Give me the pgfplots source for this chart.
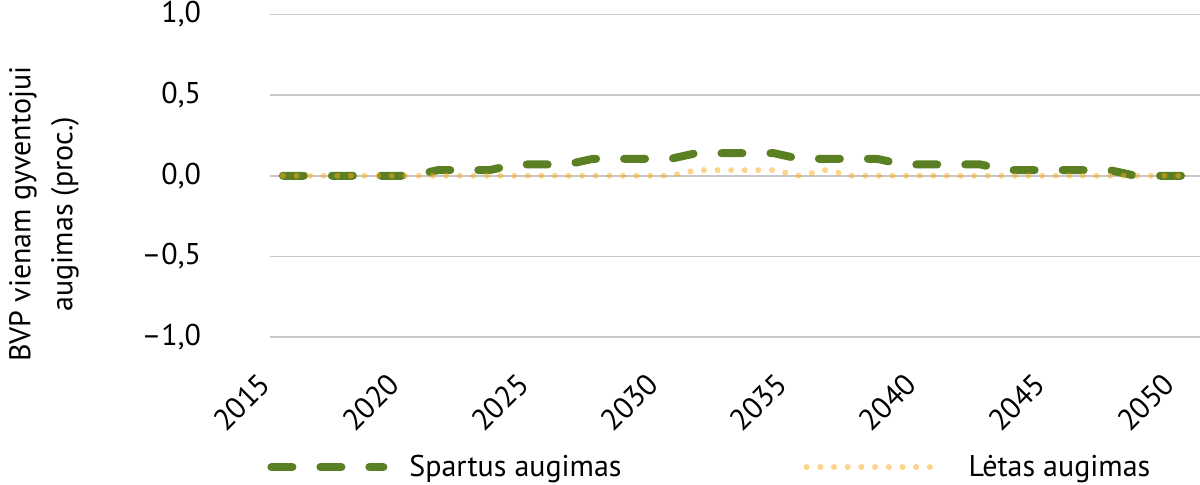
\documentclass[border=0pt]{standalone}
\usepackage{pgfplots}
\pgfplotsset{compat=1.18}
\usepackage{fontspec}
\setmainfont{PT Sans}
\definecolor{cgreen}{RGB}{91,127,35}
\definecolor{corange}{RGB}{250,170,25}
\pgfplotsset{
  greenleg/.style={legend image code/.code={\draw[##1] (2pt,0pt) -- (58pt,0pt);}},
  orangeleg/.style={legend image code/.code={\draw[##1, dash pattern=on 0pt off 6.85pt] (1.5pt,0pt) -- (70pt,0pt);}},
}
\pgfplotstableread{
year val
2015 0
2016 0
2017 0
2018 0
2019 0
2020 0
2021 0.035
2022 0.035
2023 0.035
2024 0.07
2025 0.07
2026 0.07
2027 0.105
2028 0.105
2029 0.105
2030 0.105
2031 0.14
2032 0.14
2033 0.14
2034 0.14
2035 0.105
2036 0.105
2037 0.105
2038 0.105
2039 0.07
2040 0.07
2041 0.07
2042 0.07
2043 0.035
2044 0.035
2045 0.035
2046 0.035
2047 0.035
2048 0
2049 0
2050 0
}\spartus
\pgfplotstableread{
year val
2015 0
2016 0
2017 0
2018 0
2019 0
2020 0
2021 0
2022 0
2023 0
2024 0
2025 0
2026 0
2027 0
2028 0
2029 0
2030 0
2031 0.035
2032 0.035
2033 0.035
2034 0.035
2035 0
2036 0.035
2037 0
2038 0
2039 0
2040 0
2041 0
2042 0
2043 0
2044 0
2045 0
2046 0
2047 0
2048 0
2049 0
2050 0
}\letas
\begin{document}
\begin{tikzpicture}
\path[use as bounding box] (-135pt,-73.5pt) rectangle (465pt,168.5pt);
\begin{axis}[
  at={(0,0)}, anchor=south west,
  scale only axis,
  width=465pt, height=161.25pt,
  xmin=2014.5, xmax=2050.5,
  ymin=-1, ymax=1,
  xtick={2015,2020,2025,2030,2035,2040,2045,2050},
  xticklabels={2015,2020,2025,2030,2035,2040,2045,2050},
  ytick={-1,-0.5,0,0.5,1},
  yticklabels={{–1,0},{–0,5},{0,0},{0,5},{1,0}},
  ymajorgrids,
  grid style={draw=black!22, line width=0.75pt},
  axis line style={draw=none},
  major tick length=0pt,
  tick label style={font=\fontsize{15}{17}\selectfont},
  yticklabel style={anchor=east, xshift=-31pt},
  xticklabel style={rotate=45, anchor=east, xshift=-17.7pt, yshift=-8.5pt},
  ylabel={BVP vienam gyventojui\\augimas (proc.)},
  ylabel style={at={(axis description cs:-0.243,0.381)}, anchor=center, align=center, font=\fontsize{15}{21}\selectfont},
  clip=false,
  legend columns=2,
  legend style={at={(0,0)}, anchor=west, xshift=-4.5pt, yshift=-65pt, draw=none, fill=none,
     font=\fontsize{15}{17}\selectfont,
     /tikz/every odd column/.append style={column sep=9pt},
     /tikz/every even column/.append style={column sep=89pt}},
]
\addplot[color=cgreen, line width=4pt, line cap=round, dash pattern=on 10.5pt off 14pt, greenleg] table[x=year,y=val] {\spartus};
\addlegendentry{Spartus augimas}
\addplot[color=corange, opacity=0.5, line width=3pt, line cap=round, dash pattern=on 0pt off 6.8pt, orangeleg] table[x=year,y=val] {\letas};
\addlegendentry{Lėtas augimas}
\end{axis}
\end{tikzpicture}
\end{document}
